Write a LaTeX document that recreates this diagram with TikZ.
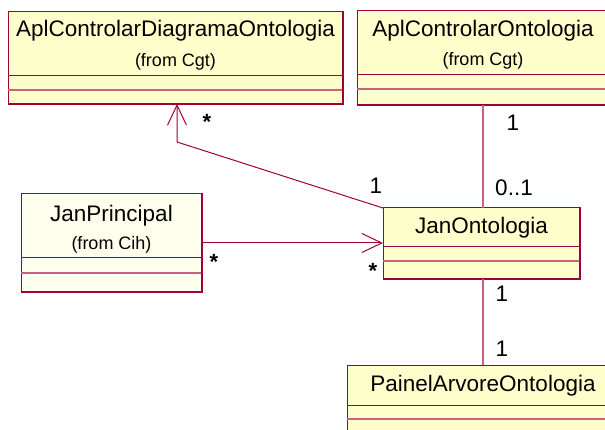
\documentclass[tikz,border=0pt]{standalone}
\usepackage{fontspec}
\setmainfont{Liberation Sans}
\usetikzlibrary{arrows.meta}
\definecolor{rosered}{RGB}{160,0,58}
\definecolor{roselight}{RGB}{204,96,130}
\definecolor{rosefill}{RGB}{255,255,204}
\definecolor{rosefillb}{RGB}{255,255,238}
\tikzset{
  x=1pt, y=-1pt,
  cls/.style={draw=rosered, line width=1pt, fill=rosefill, inner sep=0pt, outer sep=0pt},
  cname/.style={font=\fontsize{22.5}{24}\selectfont, inner sep=0pt},
  cfrom/.style={font=\fontsize{18}{20}\selectfont, inner sep=0pt},
  comp/.style={draw=rosered, line width=1pt},
  compl/.style={draw=roselight, line width=1.2pt},
  conn/.style={draw=rosered, line width=1pt},
  connv/.style={draw=roselight, line width=1.3pt},
  mult/.style={font=\fontsize{22.5}{24}\selectfont, inner sep=0pt},
  star/.style={font=\bfseries\fontsize{22}{24}\selectfont, inner sep=0pt},
  openarrow/.style={-{Straight Barb[length=20pt,width=19pt,line width=1pt]}},
}
\begin{document}
\begin{tikzpicture}
\useasboundingbox (0,0) rectangle (605,430);
\clip (0,0) rectangle (605,430);
\fill[white] (0,0) rectangle (605,430);

% AplControlarDiagramaOntologia
\node[cls, minimum width=335pt, minimum height=92pt] (acdo) at (175.5,58) {};
\draw[comp] (8,76) -- (343,76);
\draw[compl] (8,90) -- (343,90);
\draw[rosered, line width=2pt] (8,104) -- (343,104) -- (343,12);
\node[cname] (acdoT) at (175.5,31) {AplControlarDiagramaOntologia};
\node[cfrom] (acdoF) at (175.5,62) {(from Cgt)};

% AplControlarOntologia
\node[cls, minimum width=252pt, minimum height=94pt] (aco) at (483,58) {};
\draw[comp] (357,75) -- (609,75);
\draw[compl] (357,89) -- (609,89);
\draw[rosered, line width=2pt] (357,105) -- (609,105);
\node[cname] (acoT) at (483,31) {AplControlarOntologia};
\node[cfrom] (acoF) at (483,61) {(from Cgt)};

% JanPrincipal
\node[cls, fill=rosefillb, minimum width=181pt, minimum height=98pt] (jp) at (111.5,243) {};
\draw[comp] (21,258) -- (202,258);
\draw[compl] (21,273) -- (202,273);
\draw[rosered, line width=2pt] (21,292) -- (202,292) -- (202,194);
\node[cname] (jpT) at (111.5,216) {JanPrincipal};
\node[cfrom] (jpF) at (111.5,245) {(from Cih)};

% JanOntologia
\node[cls, minimum width=197pt, minimum height=71pt] (jo) at (481.5,243.5) {};
\draw[comp] (383,247) -- (580,247);
\draw[compl] (383,261) -- (580,261);
\draw[rosered, line width=2pt] (383,279) -- (580,279) -- (580,208);
\node[cname] (joT) at (481.5,228) {JanOntologia};

% PainelArvoreOntologia
\node[cls, minimum width=272pt, minimum height=70pt] (pao) at (483,400) {};
\draw[comp] (347,405) -- (619,405);
\draw[compl] (347,419) -- (619,419);
\node[cname] (paoT) at (483,386) {PainelArvoreOntologia};

% connectors
\coordinate (bend) at (177,142);
\draw[conn, openarrow] (jo.north west) -- (bend) -- (bend |- acdo.south);
\draw[conn, openarrow] (jp.east) -- (jp.east -| jo.west);
\draw[connv] (aco.south) -- (aco.south |- jo.north);
\draw[connv] (jo.south -| pao.north) -- (pao.north);

% multiplicities
\node[star] (m1) at (207,122) {*};
\node[mult] (m2) at (376,186) {1};
\node[mult] (m3) at (513,123) {1};
\node[mult] (m4) at (514,188) {0..1};
\node[star] (m5) at (214,262) {*};
\node[star] (m6) at (373,271) {*};
\node[mult] (m7) at (502,294) {1};
\node[mult] (m8) at (502,349) {1};
\end{tikzpicture}
\end{document}
